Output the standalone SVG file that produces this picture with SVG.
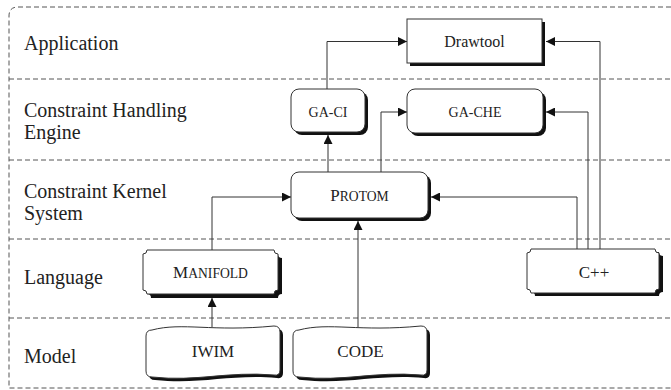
<svg xmlns="http://www.w3.org/2000/svg" width="671" height="390" viewBox="0 0 671 390">
<style>
.lane{fill:none;stroke:#555;stroke-width:1;stroke-dasharray:5 3}
.lbl{font-family:"Liberation Serif","Times New Roman",serif;font-size:20px;fill:#222}
.box{fill:#fff;stroke:#333;stroke-width:1}
.sh{fill:#111;stroke:none}
.t{font-family:"Liberation Serif","Times New Roman",serif;fill:#222;text-anchor:middle}
.c{fill:none;stroke:#333;stroke-width:1}
</style>
<defs>
<marker id="ah" viewBox="0 0 10 10" refX="10" refY="5" markerWidth="10" markerHeight="9" markerUnits="userSpaceOnUse" orient="auto">
<path d="M0,0 L10,5 L0,10 Z" fill="#111"/>
</marker>
</defs>
<rect width="671" height="390" fill="#fff"/>
<g id="lanes">
<path class="lane" d="M671,7 H18 Q9,7 9,16 V388 H671"/>
<line class="lane" x1="9" y1="79" x2="671" y2="79"/>
<line class="lane" x1="9" y1="160" x2="671" y2="160"/>
<line class="lane" x1="9" y1="239" x2="671" y2="239"/>
<line class="lane" x1="9" y1="318" x2="671" y2="318"/>
<text class="lbl" x="24" y="50">Application</text>
<text class="lbl" x="24" y="117">Constraint Handling</text>
<text class="lbl" x="24" y="139">Engine</text>
<text class="lbl" x="24" y="198">Constraint Kernel</text>
<text class="lbl" x="24" y="220">System</text>
<text class="lbl" x="24" y="284">Language</text>
<text class="lbl" x="24" y="363">Model</text>
</g>
<g id="connectors">
<path class="c" d="M327,89 V41.5 H407" marker-end="url(#ah)"/>
<path class="c" d="M600,249 V41.5 H546" marker-end="url(#ah)"/>
<path class="c" d="M381,172 V112 H407" marker-end="url(#ah)"/>
<path class="c" d="M588,249 V112 H546" marker-end="url(#ah)"/>
<path class="c" d="M328,172 V135" marker-end="url(#ah)"/>
<path class="c" d="M212,250 V197 H291" marker-end="url(#ah)"/>
<path class="c" d="M577,249 V197 H431" marker-end="url(#ah)"/>
<path class="c" d="M212,327 V298" marker-end="url(#ah)"/>
<path class="c" d="M358,327 V221" marker-end="url(#ah)"/>
</g>
<g id="drawtool">
<rect class="sh" x="410" y="22" width="135" height="44"/>
<rect class="box" x="407" y="19" width="135" height="44"/>
<text class="t" x="474.5" y="47" font-size="16">Drawtool</text>
</g>
<g id="ga-ci">
<rect class="sh" x="294" y="92" width="74" height="43" rx="8"/>
<rect class="box" x="291" y="89" width="74" height="43" rx="8"/>
<text class="t" x="328" y="117" font-size="14">GA-CI</text>
</g>
<g id="ga-che">
<rect class="sh" x="410" y="92" width="136" height="44" rx="8"/>
<rect class="box" x="407" y="89" width="136" height="44" rx="8"/>
<text class="t" x="475" y="117" font-size="14">GA-CHE</text>
</g>
<g id="protom">
<rect class="sh" x="294" y="175" width="137" height="46" rx="8"/>
<rect class="box" x="291" y="172" width="137" height="46" rx="8"/>
<text class="t" x="359.5" y="201" font-size="17">P<tspan font-size="13.6">ROTOM</tspan></text>
</g>
<g id="manifold">
<path class="sh" d="M151,254 H278 A4,4 0 0 0 282,258 V294 A4,4 0 0 0 278,298 H151 A4,4 0 0 0 147,294 V258 A4,4 0 0 0 151,254 Z"/>
<path class="box" d="M147,250 H274 A4,4 0 0 0 278,254 V290 A4,4 0 0 0 274,294 H147 A4,4 0 0 0 143,290 V254 A4,4 0 0 0 147,250 Z"/>
<text class="t" x="210.5" y="278" font-size="17">M<tspan font-size="13.6">ANIFOLD</tspan></text>
</g>
<g id="cpp">
<path class="sh" d="M535,252 H659 A4,4 0 0 0 663,256 V292 A4,4 0 0 0 659,296 H535 A4,4 0 0 0 531,292 V256 A4,4 0 0 0 535,252 Z"/>
<path class="box" d="M531,249 H655 A4,4 0 0 0 659,253 V289 A4,4 0 0 0 655,293 H531 A4,4 0 0 0 527,289 V253 A4,4 0 0 0 531,249 Z"/>
<text class="t" x="594" y="278" font-size="17">C++</text>
</g>
<g id="iwim">
<path class="sh" d="M155,333 C185,325 215,335 277,329 Q283,329 283,335 V373 Q283,379 277,378 C230,374 200,385 155,380 Q149,380 149,374 V339 Q149,333 155,333 Z"/>
<path class="box" d="M152,330 C182,322 212,332 274,326 Q280,326 280,332 V370 Q280,376 274,375 C227,371 197,382 152,377 Q146,377 146,371 V336 Q146,330 152,330 Z"/>
<text class="t" x="213" y="357" font-size="17">IWIM</text>
</g>
<g id="code">
<path class="sh" d="M302,333 C332,325 362,335 424,329 Q430,329 430,335 V373 Q430,379 424,378 C377,374 347,385 302,380 Q296,380 296,374 V339 Q296,333 302,333 Z"/>
<path class="box" d="M299,330 C329,322 359,332 421,326 Q427,326 427,332 V370 Q427,376 421,375 C374,371 344,382 299,377 Q293,377 293,371 V336 Q293,330 299,330 Z"/>
<text class="t" x="360.5" y="357" font-size="17">CODE</text>
</g>
</svg>
